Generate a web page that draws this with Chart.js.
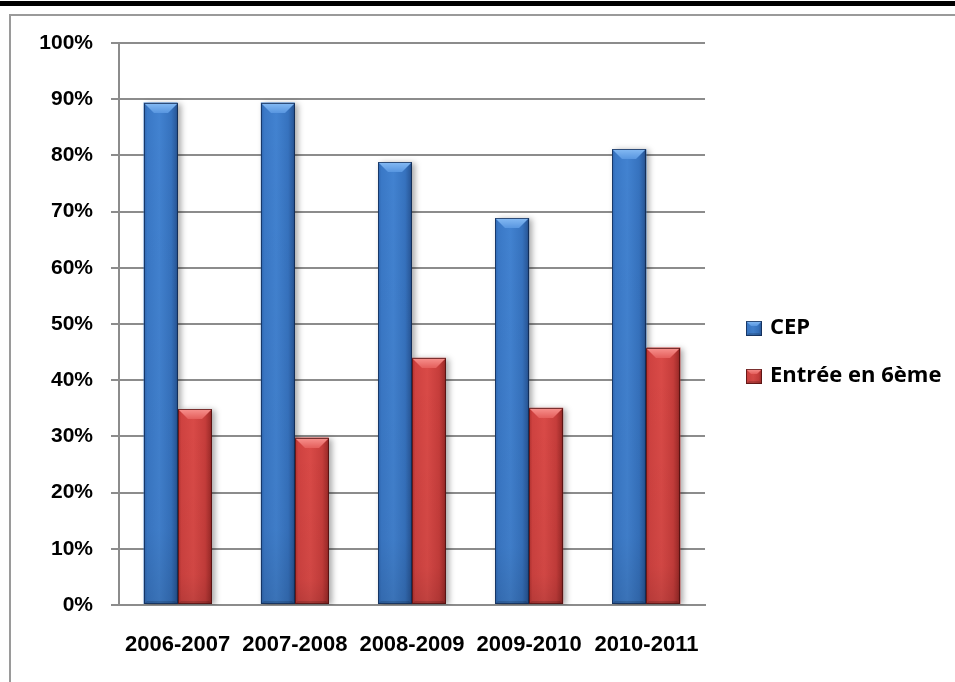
<!DOCTYPE html>
<html>
<head>
<meta charset="utf-8">
<script src="https://cdn.jsdelivr.net/npm/chart.js@4/dist/chart.umd.min.js"></script>
<style>
  html, body { margin: 0; padding: 0; background: #fff; }
  body { width: 955px; height: 682px; position: relative; overflow: hidden; }
  #topbar { position: absolute; left: 0; top: 1px; width: 955px; height: 5px; background: #000; }
  #frame { position: absolute; left: 9px; top: 14px; width: 960px; height: 700px;
           border-left: 2px solid #9a9a9a; border-top: 2px solid #9a9a9a; }
  #wrap { position: absolute; left: 0; top: 0; width: 955px; height: 682px; }
</style>
</head>
<body>
<div id="topbar"></div>
<div id="frame"></div>
<div id="wrap"><canvas id="chart" width="955" height="682"></canvas></div>
<script>
// School years and pass rates (%)
const categories = ['2006-2007', '2007-2008', '2008-2009', '2009-2010', '2010-2011'];
const cepRates = [89.4, 89.4, 78.8, 68.8, 81.1];
const entryRates = [34.8, 29.8, 44.0, 35.1, 45.8];
const seriesNames = ['CEP', 'Entrée en 6ème'];
const percentTicks = [0, 10, 20, 30, 40, 50, 60, 70, 80, 90, 100];

// Shading for the bevelled bars
const blueTone = {
  base: '#3a78c6',
  face: ['#2e66b0', '#3a78c6', '#4282d0', '#3672be', '#2a5a9c', '#1b3966'],
  bevel: ['#86bbf4', '#5896e0'],
  outline: 'rgba(16,40,80,0.75)'
};
const redTone = {
  base: '#cf4240',
  face: ['#b0312f', '#cf4240', '#d94a47', '#c63d3b', '#a22d2b', '#6e1b1a'],
  bevel: ['#f8938f', '#e45e5b'],
  outline: 'rgba(80,16,16,0.75)'
};
const tones = [blueTone, redTone];

function paintBevel(ctx, x0, y0, x1, y1, tone, b) {
  const w = x1 - x0;
  const face = ctx.createLinearGradient(x0, 0, x1, 0);
  const stops = [0, 0.1, 0.45, 0.8, 0.95, 1];
  stops.forEach((s, i) => face.addColorStop(s, tone.face[i]));
  ctx.fillStyle = face;
  ctx.fillRect(x0, y0, w, y1 - y0);

  // slightly darker toward the foot of the bar
  const foot = ctx.createLinearGradient(0, y0, 0, y1);
  foot.addColorStop(0, 'rgba(0,0,0,0)');
  foot.addColorStop(0.85, 'rgba(0,0,0,0.04)');
  foot.addColorStop(1, 'rgba(0,0,0,0.12)');
  ctx.fillStyle = foot;
  ctx.fillRect(x0, y0, w, y1 - y0);

  // light top facet
  const bb = Math.min(b, w / 2, (y1 - y0) / 2);
  const top = ctx.createLinearGradient(0, y0, 0, y0 + bb);
  top.addColorStop(0, tone.bevel[0]);
  top.addColorStop(1, tone.bevel[1]);
  ctx.fillStyle = top;
  ctx.beginPath();
  ctx.moveTo(x0, y0);
  ctx.lineTo(x1, y0);
  ctx.lineTo(x1 - bb, y0 + bb);
  ctx.lineTo(x0 + bb, y0 + bb);
  ctx.closePath();
  ctx.fill();

  // dark bottom facet
  const bf = Math.min(3, bb);
  ctx.fillStyle = 'rgba(0,0,0,0.15)';
  ctx.beginPath();
  ctx.moveTo(x0, y1);
  ctx.lineTo(x1, y1);
  ctx.lineTo(x1 - bf, y1 - bf);
  ctx.lineTo(x0 + bf, y1 - bf);
  ctx.closePath();
  ctx.fill();

  ctx.strokeStyle = tone.outline;
  ctx.lineWidth = 1;
  ctx.strokeRect(x0 + 0.5, y0 + 0.5, w - 1, y1 - y0 - 1);
}

const bevelBars = {
  id: 'bevelBars',
  beforeDatasetsDraw(chart) {
    const ctx = chart.ctx;
    ctx.save();
    ctx.shadowColor = 'rgba(0,0,0,0.35)';
    ctx.shadowBlur = 6;
    ctx.shadowOffsetX = 3;
    ctx.shadowOffsetY = 1;
  },
  afterDatasetsDraw(chart) {
    const ctx = chart.ctx;
    ctx.restore();
    ctx.save();
    chart.data.datasets.forEach((ds, di) => {
      const meta = chart.getDatasetMeta(di);
      meta.data.forEach(el => {
        const p = el.getProps(['x', 'y', 'base', 'width'], true);
        const x0 = Math.round(p.x - p.width / 2);
        const x1 = Math.round(p.x + p.width / 2);
        paintBevel(ctx, x0, Math.round(p.y), x1, Math.round(p.base), tones[di], 10);
      });
    });
    ctx.restore();
  }
};

// Legend at the right of the plot, with bevelled swatches
const sideLegend = {
  id: 'sideLegend',
  afterDraw(chart) {
    const ctx = chart.ctx;
    const area = chart.chartArea;
    const gap = 48;
    const n = chart.data.datasets.length;
    const cy = (area.top + area.bottom) / 2 + 28;
    const x = area.right + 41;
    ctx.save();
    ctx.font = 'bold 22px "Open Sans", "Liberation Sans", sans-serif';
    ctx.textBaseline = 'middle';
    ctx.textAlign = 'left';
    chart.data.datasets.forEach((ds, i) => {
      const y = cy + (i - (n - 1) / 2) * gap;
      paintBevel(ctx, x, Math.round(y - 7), x + 16, Math.round(y + 8), tones[i], 5);
      ctx.fillStyle = '#000';
      ctx.fillText(ds.label, x + 24, y);
    });
    ctx.restore();
  }
};

new Chart(document.getElementById('chart'), {
  type: 'bar',
  data: {
    labels: categories,
    datasets: [
      { label: seriesNames[0], data: cepRates, backgroundColor: blueTone.base, borderWidth: 0 },
      { label: seriesNames[1], data: entryRates, backgroundColor: redTone.base, borderWidth: 0 }
    ]
  },
  options: {
    responsive: false,
    animation: false,
    events: [],
    layout: { padding: { top: 43, right: 250, bottom: 0, left: 0 } },
    datasets: { bar: { categoryPercentage: 0.58, barPercentage: 1 } },
    plugins: { legend: { display: false }, tooltip: { enabled: false } },
    scales: {
      x: {
        grid: { display: true, drawOnChartArea: false, drawTicks: false },
        border: { display: true, color: '#8c8c8c', width: 2 },
        ticks: {
          autoSkip: false, maxRotation: 0, minRotation: 0, padding: 27, color: '#000',
          font: { family: '"Liberation Sans", Arial, sans-serif', size: 22, weight: 'bold' }
        },
        afterFit(scale) { scale.height = 77; }
      },
      y: {
        min: 0, max: 100,
        afterBuildTicks(scale) { scale.ticks = percentTicks.map(v => ({ value: v })); },
        grid: { color: '#8c8c8c', lineWidth: 2, tickLength: 8, drawTicks: true },
        border: { display: true, color: '#8c8c8c', width: 2 },
        ticks: {
          padding: 18, color: '#000',
          font: { family: '"Liberation Sans", Arial, sans-serif', size: 21, weight: 'bold' },
          callback: v => v + '%'
        },
        afterFit(scale) { scale.width = 119; }
      }
    }
  },
  plugins: [bevelBars, sideLegend]
});
</script>
</body>
</html>
